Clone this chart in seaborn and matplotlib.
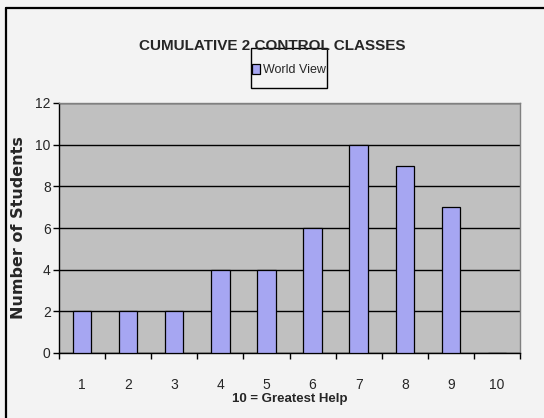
import numpy as np
import pandas as pd
import matplotlib.pyplot as plt
import seaborn as sns
from matplotlib.lines import Line2D
from matplotlib.patches import Rectangle

# Data
ratings = ["1", "2", "3", "4", "5", "6", "7", "8", "9", "10"]
students = [2, 2, 2, 4, 4, 6, 10, 9, 7, 0]
series = "World View"

df = pd.DataFrame({"rating": ratings, "students": students, "series": series})

sns.set_theme(style="white")
plt.rcParams["font.family"] = ["Liberation Sans", "DejaVu Sans"]

fig = plt.figure(figsize=(5.44, 4.18), dpi=100, facecolor="#f3f3f3")
ax = fig.add_axes([59 / 544, 1 - 353 / 418, 461 / 544, 250 / 418])
ax.set_facecolor("#c0c0c0")

sns.barplot(data=df, x="rating", y="students", hue="series", ax=ax,
            palette=["#9999ff"], width=0.4, edgecolor="black", linewidth=0.9,
            dodge=False, zorder=3)

ax.set_xlim(-0.5, 9.5)
ax.set_ylim(0, 12)
ax.set_yticks(range(0, 13, 2))
ax.yaxis.grid(True, color="black", linewidth=1, zorder=1)
ax.set_axisbelow(True)
for s in ax.spines.values():
    s.set_color("#808080")
    s.set_linewidth(1)
ax.spines["left"].set_color("black")
ax.spines["bottom"].set_color("black")

ax.tick_params(axis="y", length=4, width=1, color="black", labelsize=10, pad=2, left=True)
ax.tick_params(axis="x", length=0, labelsize=10, pad=18)
ax.set_xticks(np.arange(-0.5, 10, 1), minor=True)
ax.tick_params(axis="x", which="minor", length=4, width=1, color="black", bottom=True)

ax.set_xlabel("10 = Greatest Help", fontsize=9.5, fontweight="bold")
ax.xaxis.set_label_coords(0.5, (353 - 393) / 250)
ax.set_ylabel("Number of Students", fontsize=11.5, fontweight="bold",
              family=["DejaVu Sans"])
ax.yaxis.set_label_coords((26 - 59) / 461, 0.5)

fig.text(0.5, 1 - 46 / 418, "CUMULATIVE 2 CONTROL CLASSES", ha="center", va="center",
         fontsize=11, fontweight="bold")

leg = ax.legend(loc="center", bbox_to_anchor=(289 / 544, 1 - 70 / 418),
                bbox_transform=fig.transFigure, fontsize=9, frameon=False,
                handlelength=0.6, handleheight=0.9, handletextpad=0.25,
                borderpad=0.2, borderaxespad=0)

# legend box and chart border (top and left only, as in the reference)
fig.patches.append(Rectangle((251 / 544, 1 - 88 / 418), 76 / 544, 40 / 418,
                             transform=fig.transFigure, fill=False,
                             edgecolor="black", linewidth=1))
fig.lines.append(Line2D([6 / 544, 6 / 544], [0, 1 - 8 / 418],
                        transform=fig.transFigure, color="black", linewidth=1.6))
fig.lines.append(Line2D([6 / 544, 1], [1 - 8 / 418, 1 - 8 / 418],
                        transform=fig.transFigure, color="black", linewidth=1.6))

fig.savefig("out.png", dpi=100, facecolor=fig.get_facecolor())
